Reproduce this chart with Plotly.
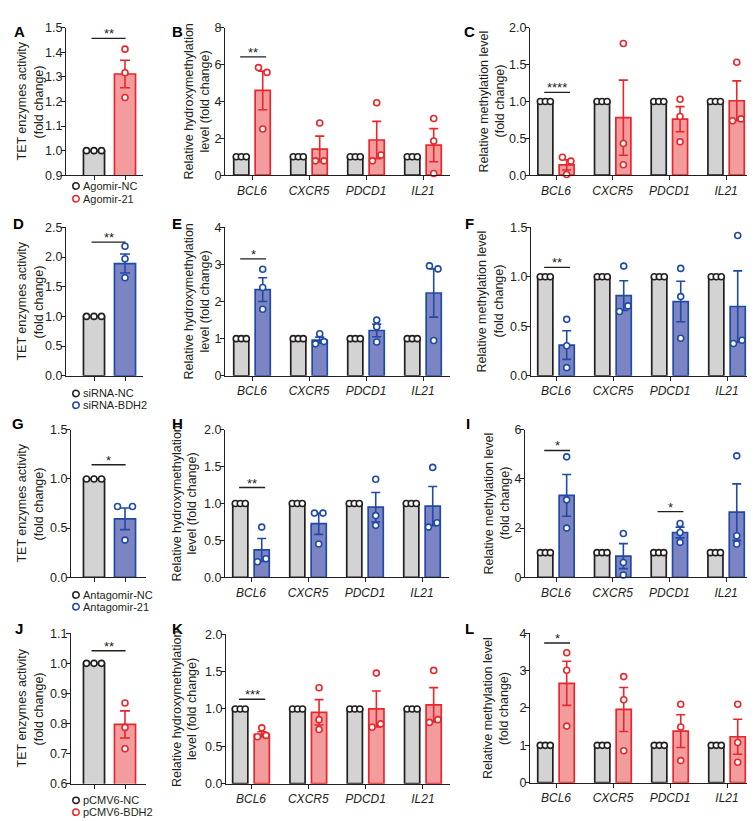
import plotly.graph_objects as go

W, H = 755, 821

GENES = ["BCL6", "CXCR5", "PDCD1", "IL21"]

# ---------------- data ----------------
A_groups = ["Agomir-NC", "Agomir-21"]
A_mean = [1.0, 1.312]
A_sem = [0.0, 0.056]
A_ctrl_pts = [1.0, 1.0, 1.0]
A_trt_pts = [1.413, 1.317, 1.216]
A_yticks = [0.9, 1.0, 1.1, 1.2, 1.3, 1.4, 1.5]
A_yticklabels = ["0.9", "1.0", "1.1", "1.2", "1.3", "1.4", "1.5"]
A_sig = [("**", 1.457)]

B_ctrl_mean = [1.0, 1.0, 1.0, 1.0]
B_trt_mean = [4.60, 1.42, 1.91, 1.63]
B_trt_sem = [1.05, 0.70, 1.01, 0.90]
B_trt_pts = [[5.84, 5.58, 2.51], [2.83, 0.78, 0.78], [3.93, 0.78, 1.10], [3.08, 1.86, 0.09]]
B_yticks = [0, 2, 4, 6, 8]
B_yticklabels = ["0", "2", "4", "6", "8"]
B_sig = [("BCL6", "**", 6.42)]

C_ctrl_mean = [1.0, 1.0, 1.0, 1.0]
C_trt_mean = [0.14, 0.78, 0.76, 1.01]
C_trt_sem = [0.07, 0.51, 0.17, 0.27]
C_trt_pts = [[0.244, 0.191, 0.009], [1.787, 0.431, 0.142], [1.031, 0.796, 0.453], [1.533, 0.738, 0.764]]
C_yticks = [0, 0.5, 1.0, 1.5, 2.0]
C_yticklabels = ["0.0", "0.5", "1.0", "1.5", "2.0"]
C_sig = [("BCL6", "****", 1.124)]

D_groups = ["siRNA-NC", "siRNA-BDH2"]
D_mean = [1.0, 1.89]
D_sem = [0.0, 0.16]
D_ctrl_pts = [1.0, 1.0, 1.0]
D_trt_pts = [2.18, 1.97, 1.65]
D_yticks = [0, 0.5, 1.0, 1.5, 2.0, 2.5]
D_yticklabels = ["0.0", "0.5", "1.0", "1.5", "2.0", "2.5"]
D_sig = [("**", 2.25)]

E_ctrl_mean = [1.0, 1.0, 1.0, 1.0]
E_trt_mean = [2.32, 0.96, 1.22, 2.23]
E_trt_sem = [0.32, 0.08, 0.17, 0.65]
E_trt_pts = [[2.87, 2.38, 1.79], [1.13, 0.86, 0.92], [1.50, 1.32, 0.91], [2.96, 2.88, 0.95]]
E_yticks = [0, 1, 2, 3, 4]
E_yticklabels = ["0", "1", "2", "3", "4"]
E_sig = [("BCL6", "*", 3.15)]

F_ctrl_mean = [1.0, 1.0, 1.0, 1.0]
F_trt_mean = [0.31, 0.81, 0.75, 0.70]
F_trt_sem = [0.145, 0.15, 0.205, 0.36]
F_trt_pts = [[0.57, 0.303, 0.082], [1.108, 0.65, 0.706], [1.085, 0.80, 0.379], [1.418, 0.326, 0.359]]
F_yticks = [0, 0.5, 1.0, 1.5]
F_yticklabels = ["0.0", "0.5", "1.0", "1.5"]
F_sig = [("BCL6", "**", 1.095)]

G_groups = ["Antagomir-NC", "Antagomir-21"]
G_mean = [1.0, 0.594]
G_sem = [0.0, 0.11]
G_ctrl_pts = [1.0, 1.0, 1.0]
G_trt_pts = [0.72, 0.72, 0.378]
G_yticks = [0, 0.5, 1.0, 1.5]
G_yticklabels = ["0.0", "0.5", "1.0", "1.5"]
G_sig = [("*", 1.145)]

H_ctrl_mean = [1.0, 1.0, 1.0, 1.0]
H_trt_mean = [0.37, 0.726, 0.95, 0.965]
H_trt_sem = [0.155, 0.145, 0.20, 0.265]
H_trt_pts = [[0.68, 0.21, 0.25], [0.87, 0.87, 0.45], [1.33, 0.836, 0.704], [1.49, 0.68, 0.74]]
H_yticks = [0, 0.5, 1.0, 1.5, 2.0]
H_yticklabels = ["0.0", "0.5", "1.0", "1.5", "2.0"]
H_sig = [("BCL6", "**", 1.217)]

I_ctrl_mean = [1.0, 1.0, 1.0, 1.0]
I_trt_mean = [3.33, 0.86, 1.82, 2.65]
I_trt_sem = [0.85, 0.51, 0.22, 1.15]
I_trt_pts = [[4.90, 3.15, 2.0], [1.78, 0.60, 0.09], [2.19, 1.82, 1.42], [4.94, 1.69, 1.35]]
I_yticks = [0, 2, 4, 6]
I_yticklabels = ["0", "2", "4", "6"]
I_sig = [("BCL6", "*", 5.16), ("PDCD1", "*", 2.67)]

J_groups = ["pCMV6-NC", "pCMV6-BDH2"]
J_mean = [1.0, 0.797]
J_sem = [0.0, 0.045]
J_ctrl_pts = [1.0, 1.0, 1.0]
J_trt_pts = [0.868, 0.787, 0.716]
J_yticks = [0.6, 0.7, 0.8, 0.9, 1.0, 1.1]
J_yticklabels = ["0.6", "0.7", "0.8", "0.9", "1.0", "1.1"]
J_sig = [("**", 1.042)]

K_ctrl_mean = [1.0, 1.0, 1.0, 1.0]
K_trt_mean = [0.66, 0.955, 1.0, 1.055]
K_trt_sem = [0.035, 0.17, 0.24, 0.23]
K_trt_pts = [[0.628, 0.747, 0.646], [1.283, 0.857, 0.725], [1.48, 0.756, 0.80], [1.516, 0.82, 0.857]]
K_yticks = [0, 0.5, 1.0, 1.5, 2.0]
K_yticklabels = ["0.0", "0.5", "1.0", "1.5", "2.0"]
K_sig = [("BCL6", "***", 1.13)]

L_ctrl_mean = [1.0, 1.0, 1.0, 1.0]
L_trt_mean = [2.66, 1.96, 1.38, 1.23]
L_trt_sem = [0.59, 0.59, 0.44, 0.47]
L_trt_pts = [[3.48, 3.01, 1.515], [2.84, 2.22, 0.855], [2.10, 1.49, 0.59], [2.10, 1.075, 0.546]]
L_yticks = [0, 1, 2, 3, 4]
L_yticklabels = ["0", "1", "2", "3", "4"]
L_sig = [("BCL6", "*", 3.74)]

CTRL_PTS = [1.0, 1.0, 1.0]

TITLE_TET = ["TET enzymes activity", "(fold change)"]
TITLE_HMC = ["Relative hydroxymethylation", "level (fold change)"]
TITLE_MC = ["Relative methylation level", "(fold change)"]

# ---------------- styles ----------------
FONT = "Arial, 'Liberation Sans', Helvetica, sans-serif"
DARK = "#231f20"
GRAY_FILL = "#d3d3d3"
RED = dict(fill="#f29c9e", edge="#e8262b")
BLUE = dict(fill="#7d84c4", edge="#1f4aa5")

fig = go.Figure()
layout_axes = {}
shapes = []
annotations = []


def px2fx(px):
    return px / W


def py2fy(py):
    return 1 - py / H


def jitter(vals, yspan, step2, step3, thr=0.042):
    n = len(vals)
    order = sorted(range(n), key=lambda i: vals[i])
    groups, cur = [], [order[0]]
    for a, b in zip(order, order[1:]):
        if vals[b] - vals[a] < thr * yspan:
            cur.append(b)
        else:
            groups.append(cur)
            cur = [b]
    groups.append(cur)
    offs = [0.0] * n
    for g in groups:
        g = sorted(g)
        m = len(g)
        if m == 1:
            continue
        step = step2 if m == 2 else step3
        for k, i in enumerate(g):
            offs[i] = (k - (m - 1) / 2) * step
    return offs


def setup_axes(idx, xpx, ypx, c0, sp, yticks, yticklabels, tickvals, ticktext, showx):
    xa = "x" if idx == 1 else f"x{idx}"
    ya = "y" if idx == 1 else f"y{idx}"
    xr = [(xpx[0] - c0) / sp, (xpx[1] - c0) / sp]
    layout_axes["xaxis" if idx == 1 else f"xaxis{idx}"] = dict(
        domain=[px2fx(xpx[0]), px2fx(xpx[1])], range=xr, anchor=ya,
        tickvals=tickvals, ticktext=ticktext, showticklabels=showx,
        showline=True, linecolor=DARK, linewidth=1.3, ticks="outside",
        ticklen=4, tickwidth=1.3, tickcolor=DARK, showgrid=False, zeroline=False,
        tickfont=dict(size=12, color=DARK, family=FONT), fixedrange=True)
    layout_axes["yaxis" if idx == 1 else f"yaxis{idx}"] = dict(
        domain=[py2fy(ypx[1]), py2fy(ypx[0])], range=[yticks[0], yticks[-1]], anchor=xa,
        tickvals=yticks, ticktext=yticklabels,
        showline=True, linecolor=DARK, linewidth=1.3, ticks="outside",
        ticklen=4, tickwidth=1.3, tickcolor=DARK, showgrid=False, zeroline=False,
        tickfont=dict(size=12.5, color=DARK, family=FONT), ticklabelstandoff=-4,
        fixedrange=True)
    return xa, ya, xr


def add_bar(xa, ya, xs, ys, width, fill, edge, sem=None, capw=4.5):
    kw = {}
    if sem is not None:
        kw["error_y"] = dict(type="data", array=sem, symmetric=True, color=edge,
                             thickness=1.6, width=capw, visible=True)
    fig.add_trace(go.Bar(x=xs, y=ys, width=width, xaxis=xa, yaxis=ya,
                         marker=dict(color=fill, line=dict(color=edge, width=1.7)),
                         showlegend=False, hoverinfo="skip", **kw))


def add_dots(xa, ya, xs, ys, edge):
    fig.add_trace(go.Scatter(x=xs, y=ys, xaxis=xa, yaxis=ya, mode="markers",
                             marker=dict(symbol="circle", size=6, color="white",
                                         line=dict(color=edge, width=1.6)),
                             cliponaxis=False, showlegend=False, hoverinfo="skip"))


def common(letter, letter_pos, title_xs, ypx, title):
    annotations.append(dict(xref="paper", yref="paper", x=px2fx(letter_pos[0]), y=py2fy(letter_pos[1]),
                            text=f"<b>{letter}</b>", showarrow=False, xanchor="center", yanchor="middle",
                            font=dict(size=15, color="black", family=FONT)))
    for line, tx in zip(title, title_xs):
        annotations.append(dict(xref="paper", yref="paper", x=px2fx(tx), y=py2fy((ypx[0] + ypx[1]) / 2),
                                text=line, textangle=-90, showarrow=False, xanchor="center",
                                yanchor="middle",
                                font=dict(size=12.5, color=DARK, family=FONT)))


def two_bar_panel(idx, letter, letter_pos, xpx, ypx, title_xs, groups, mean, sem,
                  ctrl_pts, trt_pts, yticks, yticklabels, sig, col, legend_rows):
    c0, sp = 86, 31
    xa, ya, xr = setup_axes(idx, xpx, ypx, c0, sp, yticks, yticklabels, [0, 1], ["", ""], False)
    yspan = yticks[-1] - yticks[0]
    add_bar(xa, ya, [0], [mean[0]], 0.68, GRAY_FILL, DARK)
    add_bar(xa, ya, [1], [mean[1]], 0.68, col["fill"], col["edge"], sem=[sem[1]], capw=5)
    o = jitter(ctrl_pts, yspan, 15, 7.5)
    add_dots(xa, ya, [0 + v / sp for v in o], ctrl_pts, DARK)
    o = jitter(trt_pts, yspan, 15, 7.5)
    add_dots(xa, ya, [1 + v / sp for v in o], trt_pts, col["edge"])
    for text, yv in sig:
        shapes.append(dict(type="line", xref=xa, yref=ya, x0=-0.08, x1=1.02, y0=yv, y1=yv,
                           line=dict(color=DARK, width=1.4)))
        annotations.append(dict(xref=xa, yref=ya, x=0.47, y=yv, text=text, showarrow=False,
                                yanchor="bottom", yshift=-5,
                                font=dict(size=13, color=DARK, family=FONT)))
    common(letter, letter_pos, title_xs, ypx, TITLE_TET)
    for (label, edge), ry in zip([(groups[0], DARK), (groups[1], col["edge"])], legend_rows):
        shapes.append(dict(type="circle", xref="paper", yref="paper",
                           xsizemode="pixel", ysizemode="pixel",
                           xanchor=px2fx(68), yanchor=py2fy(ry),
                           x0=-3.2, x1=3.2, y0=-3.2, y1=3.2,
                           line=dict(color=edge, width=1.5), fillcolor="white"))
        annotations.append(dict(xref="paper", yref="paper", x=px2fx(73), y=py2fy(ry),
                                text=label, showarrow=False, xanchor="left", yanchor="middle",
                                font=dict(size=11, color=DARK, family=FONT)))


def gene_panel(idx, letter, letter_pos, xpx, ypx, c0, sp, title_xs, title, ctrl_mean,
               trt_mean, trt_sem, trt_pts, yticks, yticklabels, sig, col):
    xa, ya, xr = setup_axes(idx, xpx, ypx, c0, sp, yticks, yticklabels,
                            list(range(len(GENES))), [f"<i>{g}</i>" for g in GENES], True)
    yspan = yticks[-1] - yticks[0]
    off = 0.188
    bw = 0.265
    cats = list(range(len(GENES)))
    add_bar(xa, ya, [c - off for c in cats], ctrl_mean, bw, GRAY_FILL, DARK)
    add_bar(xa, ya, [c + off for c in cats], trt_mean, bw, col["fill"], col["edge"], sem=trt_sem)
    cx, cy, tx, ty = [], [], [], []
    for c, pts in zip(cats, trt_pts):
        o = jitter(CTRL_PTS, yspan, 8.5, 5)
        cx += [c - off + v / sp for v in o]
        cy += CTRL_PTS
        o = jitter(pts, yspan, 8.5, 5)
        tx += [c + off + v / sp for v in o]
        ty += pts
    add_dots(xa, ya, cx, cy, DARK)
    add_dots(xa, ya, tx, ty, col["edge"])
    for gene, text, yv in sig:
        c = GENES.index(gene)
        shapes.append(dict(type="line", xref=xa, yref=ya, x0=c - off - 0.02, x1=c + off + 0.06,
                           y0=yv, y1=yv, line=dict(color=DARK, width=1.4)))
        annotations.append(dict(xref=xa, yref=ya, x=c + 0.02, y=yv, text=text, showarrow=False,
                                yanchor="bottom", yshift=-5,
                                font=dict(size=13, color=DARK, family=FONT)))
    common(letter, letter_pos, title_xs, ypx, title)


two_bar_panel(1, "A", (11, 17), (58, 135), (13, 163), (14, 31), A_groups, A_mean, A_sem,
              A_ctrl_pts, A_trt_pts, A_yticks, A_yticklabels, A_sig, RED, (174, 187))
gene_panel(2, "B", (169, 17), (217, 442), (13, 163), 244, 57, (181, 197), TITLE_HMC,
           B_ctrl_mean, B_trt_mean, B_trt_sem, B_trt_pts, B_yticks, B_yticklabels, B_sig, RED)
gene_panel(3, "C", (461, 17), (522, 752), (13, 163), 548, 56.7, (476, 492), TITLE_MC,
           C_ctrl_mean, C_trt_mean, C_trt_sem, C_trt_pts, C_yticks, C_yticklabels, C_sig, RED)
two_bar_panel(4, "D", (10, 212), (58, 135), (216, 367), (14, 31), D_groups, D_mean, D_sem,
              D_ctrl_pts, D_trt_pts, D_yticks, D_yticklabels, D_sig, BLUE, (385, 397))
gene_panel(5, "E", (169, 212), (217, 442), (216, 367), 244, 57, (181, 197), TITLE_HMC,
           E_ctrl_mean, E_trt_mean, E_trt_sem, E_trt_pts, E_yticks, E_yticklabels, E_sig, BLUE)
gene_panel(6, "F", (461, 212), (523, 752), (216, 367), 548, 57, (474, 491), TITLE_MC,
           F_ctrl_mean, F_trt_mean, F_trt_sem, F_trt_pts, F_yticks, F_yticklabels, F_sig, BLUE)
two_bar_panel(7, "G", (10, 416), (63, 138), (422, 572), (14, 31), G_groups, G_mean, G_sem,
              G_ctrl_pts, G_trt_pts, G_yticks, G_yticklabels, G_sig, BLUE, (590, 602))
gene_panel(8, "H", (169, 416), (217, 441), (422, 572), 243, 57, (169, 184), TITLE_HMC,
           H_ctrl_mean, H_trt_mean, H_trt_sem, H_trt_pts, H_yticks, H_yticklabels, H_sig, BLUE)
gene_panel(9, "I", (460, 416), (517, 745), (422, 572), 548, 56.7, (481, 497), TITLE_MC,
           I_ctrl_mean, I_trt_mean, I_trt_sem, I_trt_pts, I_yticks, I_yticklabels, I_sig, BLUE)
two_bar_panel(10, "J", (11, 624), (63, 138), (629, 782), (14, 31), J_groups, J_mean, J_sem,
              J_ctrl_pts, J_trt_pts, J_yticks, J_yticklabels, J_sig, RED, (799, 811))
gene_panel(11, "K", (169, 624), (218, 442), (630, 782), 243, 57.3, (169, 184), TITLE_HMC,
           K_ctrl_mean, K_trt_mean, K_trt_sem, K_trt_pts, K_yticks, K_yticklabels, K_sig, RED)
gene_panel(12, "L", (461, 624), (522, 746), (629, 781), 548, 57, (480, 496), TITLE_MC,
           L_ctrl_mean, L_trt_mean, L_trt_sem, L_trt_pts, L_yticks, L_yticklabels, L_sig, RED)

fig.update_layout(
    width=W, height=H, margin=dict(l=0, r=0, t=0, b=0),
    paper_bgcolor="white", plot_bgcolor="rgba(0,0,0,0)",
    barmode="overlay", showlegend=False,
    font=dict(family=FONT, color=DARK),
    shapes=shapes, annotations=annotations,
    **layout_axes)

fig.write_html("out.html")
